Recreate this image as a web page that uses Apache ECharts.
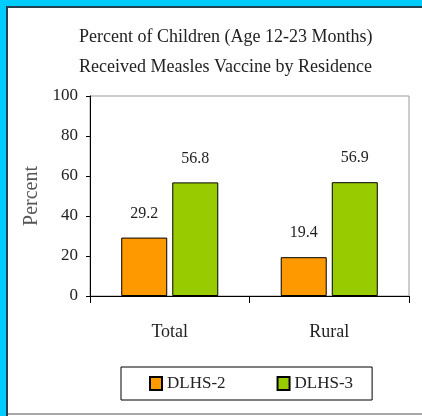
<!DOCTYPE html>
<html>
<head>
<meta charset="utf-8">
<script src="https://cdn.jsdelivr.net/npm/echarts@6/dist/echarts.min.js"></script>
<style>
  html, body { margin: 0; padding: 0; background: #ffffff; }
  #topband { position: absolute; left: 0; top: 0; width: 422px; height: 6px; background: #00CCFF; }
  #leftband { position: absolute; left: 0; top: 0; width: 6px; height: 416px; background: #00CCFF; }
  #topline { position: absolute; left: 6px; top: 6px; width: 416px; height: 2px; background: #23404c; }
  #leftline { position: absolute; left: 6px; top: 6px; width: 2px; height: 410px; background: #23404c; }
  #bottomline { position: absolute; left: 8px; top: 413px; width: 414px; height: 2px; background: #a8a8a8; }
  #chart { position: absolute; left: 0; top: 0; width: 422px; height: 416px; }
</style>
</head>
<body>
<div id="topband"></div>
<div id="leftband"></div>
<div id="topline"></div>
<div id="leftline"></div>
<div id="bottomline"></div>
<div id="chart"></div>
<script>
const categories = ['Total', 'Rural'];
const seriesNames = ['DLHS-2', 'DLHS-3'];
const dlhs2 = [29.2, 19.4];
const dlhs3 = [56.8, 56.9];
const yTicks = [0, 20, 40, 60, 80, 100];

const chart = echarts.init(document.getElementById('chart'), null, { renderer: 'canvas' });
const serif = '"Liberation Serif", "DejaVu Serif", serif';
const labelStyle = {
  show: true, position: 'top', distance: 16,
  fontFamily: serif, fontSize: 16, color: '#222'
};
chart.setOption({
  backgroundColor: 'transparent',
  animation: false,
  title: {
    text: 'Percent of Children (Age 12-23 Months)\nReceived Measles Vaccine by Residence',
    left: 74, top: 17,
    textStyle: { fontFamily: serif, fontSize: 18, fontWeight: 'normal', color: '#222', lineHeight: 30, width: 296, align: 'center' }
  },
  legend: {
    data: seriesNames,
    left: 121, top: 367,
    padding: [8, 19, 8, 28],
    itemGap: 51,
    itemWidth: 12, itemHeight: 13,
    borderColor: '#000', borderWidth: 1,
    icon: 'rect',
    textStyle: { fontFamily: serif, fontSize: 17, color: '#222' }
  },
  grid: {
    left: 90, top: 96, right: 13, bottom: 120,
    show: true, borderColor: '#999', borderWidth: 1, backgroundColor: 'transparent'
  },
  xAxis: {
    type: 'category',
    data: categories,
    axisLine: { lineStyle: { color: '#000', width: 1 } },
    axisTick: { show: true, length: 7, lineStyle: { color: '#000' } },
    axisLabel: { margin: 27, fontFamily: serif, fontSize: 18, color: '#222' }
  },
  yAxis: {
    type: 'value',
    min: yTicks[0], max: yTicks[yTicks.length - 1], interval: 20,
    name: 'Percent', nameLocation: 'middle', nameRotate: 90, nameGap: 48,
    nameTextStyle: { fontFamily: serif, fontSize: 20, color: '#555' },
    axisLine: { show: true, lineStyle: { color: '#000', width: 1 } },
    axisTick: { show: true, length: 4, lineStyle: { color: '#000' } },
    splitLine: { show: false },
    axisLabel: { margin: 12, fontFamily: serif, fontSize: 17, color: '#222' }
  },
  series: [
    {
      name: seriesNames[0], type: 'bar', data: dlhs2,
      barWidth: 46, barGap: '11%',
      itemStyle: { color: '#FF9900', borderColor: '#000', borderWidth: 1 },
      label: labelStyle
    },
    {
      name: seriesNames[1], type: 'bar', data: dlhs3,
      barWidth: 46,
      itemStyle: { color: '#99CC00', borderColor: '#000', borderWidth: 1 },
      label: labelStyle
    }
  ]
});
</script>
</body>
</html>
